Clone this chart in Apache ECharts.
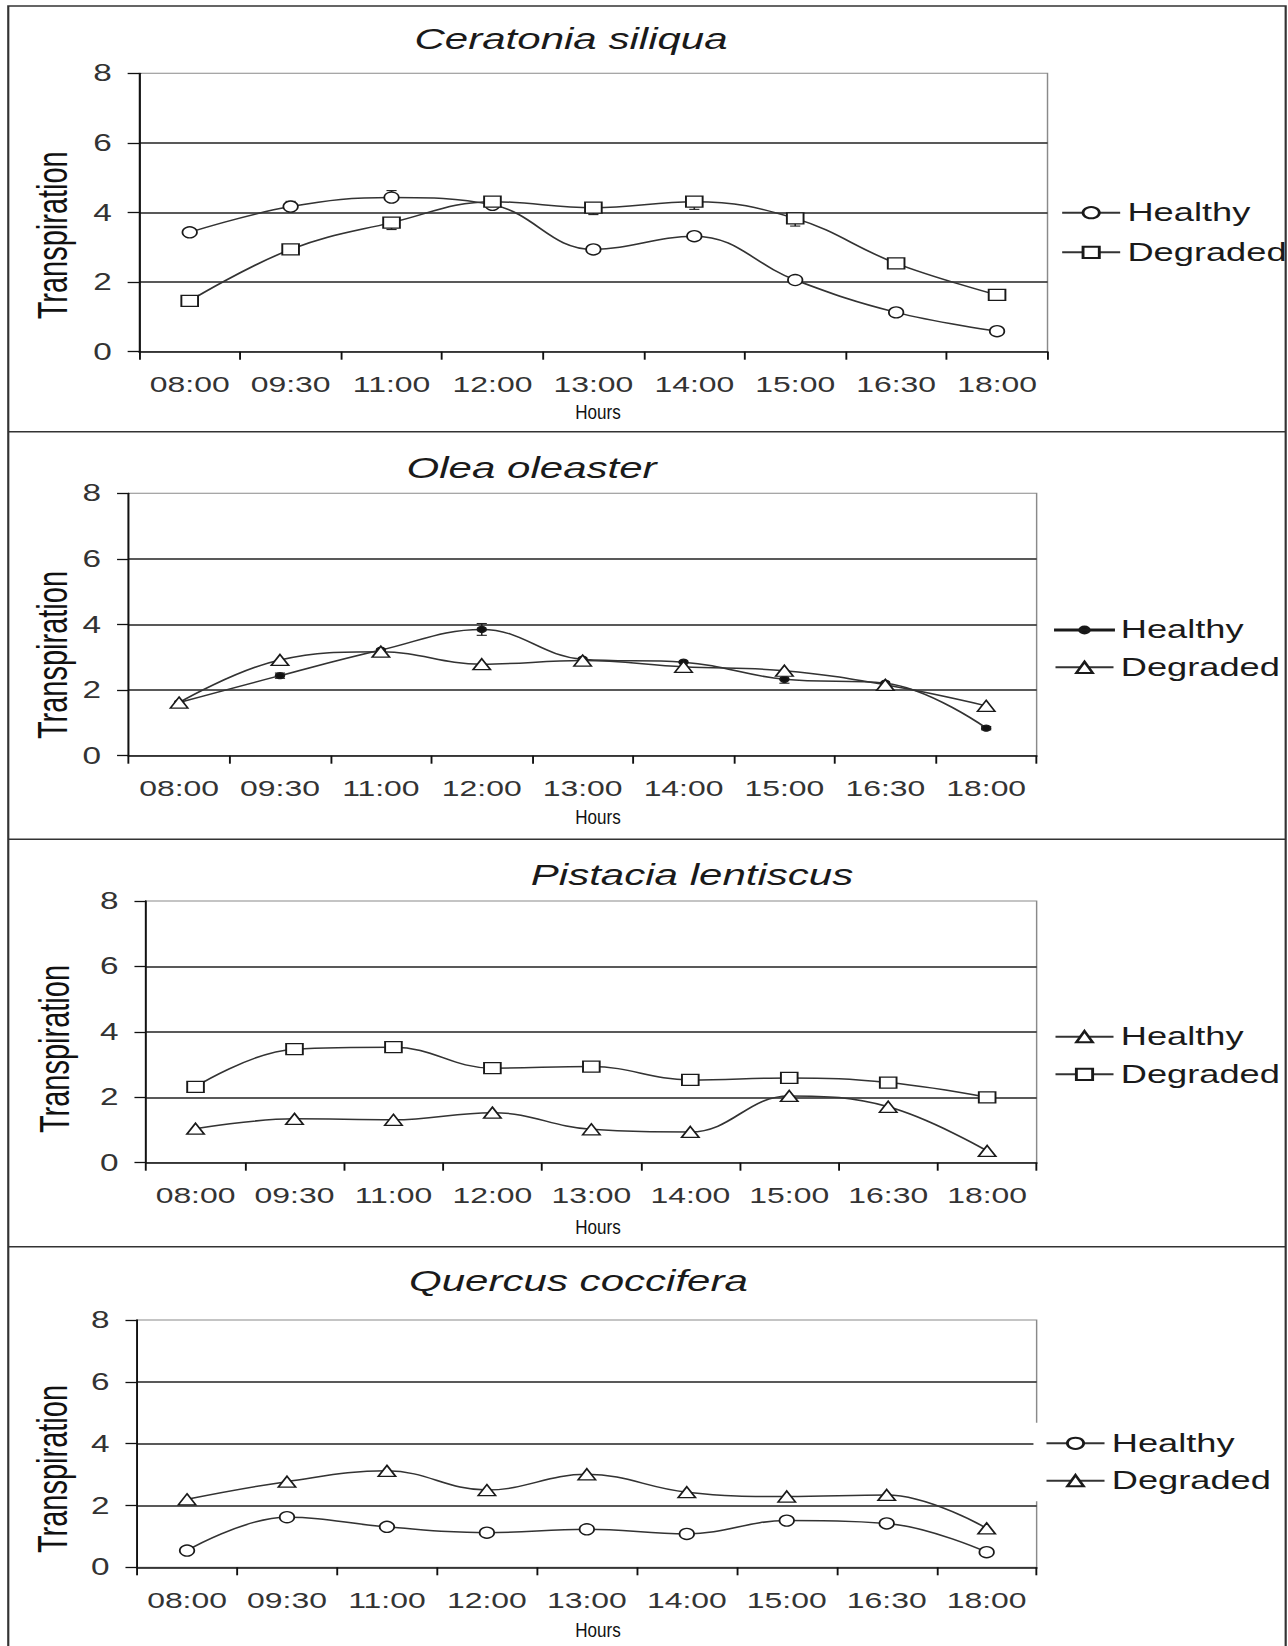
<!DOCTYPE html>
<html>
<head>
<meta charset="utf-8">
<script src="https://cdn.jsdelivr.net/npm/echarts@6/dist/echarts.min.js"></script>
<style>
html,body{margin:0;padding:0;background:#fff;overflow:hidden;}
#chart{width:888px;height:1646px;transform:scaleX(1.45045);transform-origin:0 0;}
</style>
</head>
<body>
<div id="chart"></div>
<script>
// ---------- data ----------
const categories = ['08:00','09:30','11:00','12:00','13:00','14:00','15:00','16:30','18:00'];
const yMin = 0, yMax = 8, yStep = 2;

const ceratoniaHealthy  = [3.43, 4.17, 4.43, 4.22, 2.94, 3.32, 2.06, 1.13, 0.59];
const ceratoniaDegraded = [1.46, 2.94, 3.71, 4.31, 4.14, 4.31, 3.83, 2.54, 1.63];
const ceratoniaHealthyErrUp    = [0, 0.15, 0.2, 0.1, 0.1, 0.08, 0.08, 0, 0];
const ceratoniaDegradedErrDown = [0, 0.1, 0.2, 0, 0.2, 0.22, 0.22, 0, 0];

const oleaHealthy  = [1.62, 2.44, 3.22, 3.85, 2.94, 2.85, 2.33, 2.21, 0.84];
const oleaDegraded = [1.62, 2.92, 3.17, 2.79, 2.90, 2.71, 2.59, 2.16, 1.52];
const oleaHealthyErr = [0, 0.08, 0, 0.18, 0, 0, 0.12, 0, 0.05];

const pistaciaHealthy  = [1.04, 1.34, 1.31, 1.53, 1.02, 0.94, 2.04, 1.71, 0.36];
const pistaciaDegraded = [2.32, 3.47, 3.53, 2.89, 2.94, 2.53, 2.59, 2.45, 2.00];

const quercusHealthy  = [0.54, 1.62, 1.31, 1.12, 1.23, 1.08, 1.51, 1.42, 0.49];
const quercusDegraded = [2.20, 2.77, 3.12, 2.50, 3.01, 2.43, 2.29, 2.34, 1.26];

const zeros = [0,0,0,0,0,0,0,0,0];

// ---------- layout (chart units; page is stretched horizontally by CSS) ----------
const FONT = '"Liberation Sans", Arial, Helvetica, sans-serif';
const DOT_ICON = 'path://M0,6.4L40,6.4L40,7.6L0,7.6Z M16.6,7A3.4,3.4,0,1,0,23.4,7A3.4,3.4,0,1,0,16.6,7Z';
const panels = [
  {title:'Ceratonia siliqua', key:'Ceratonia',
   h:{data:ceratoniaHealthy, sym:'circle', size:[10,11], fill:'#fff', lo:zeros, hi:ceratoniaHealthyErrUp},
   d:{data:ceratoniaDegraded, sym:'rect', size:[11.5,11], fill:'#fff', lo:ceratoniaDegradedErrDown, hi:zeros},
   grid:{left:96.0, top:73.3, width:626.2, height:278.4},
   legend:{left:731.3, top:200.2, gap:14.6, bg:false},
   titleX:393.7, titleY:38.8, yNameX:36.2, yNameY:235.3, hoursY:411.7},
  {title:'Olea oleaster', key:'Olea', hIcon:DOT_ICON,
   h:{data:oleaHealthy, sym:'circle', size:[6,6], fill:'#111', lo:oleaHealthyErr, hi:oleaHealthyErr},
   d:{data:oleaDegraded, sym:'triangle', size:[12,11], fill:'#fff', lo:zeros, hi:zeros},
   grid:{left:88.7, top:493.3, width:626.0, height:262.4},
   legend:{left:726.7, top:617.5, gap:12.3, bg:false},
   titleX:366.5, titleY:468.3, yNameX:36.2, yNameY:655, hoursY:816.7},
  {title:'Pistacia lentiscus', key:'Pistacia',
   h:{data:pistaciaHealthy, sym:'triangle', size:[12,11], fill:'#fff', lo:zeros, hi:zeros},
   d:{data:pistaciaDegraded, sym:'rect', size:[11.5,11], fill:'#fff', lo:zeros, hi:zeros},
   grid:{left:100.7, top:901, width:614.0, height:261.7},
   legend:{left:726.7, top:1024.2, gap:12.6, bg:false},
   titleX:477.1, titleY:875, yNameX:37.7, yNameY:1049, hoursY:1226.7},
  {title:'Quercus coccifera', key:'Quercus',
   h:{data:quercusHealthy, sym:'circle', size:[10,11], fill:'#fff', lo:zeros, hi:zeros},
   d:{data:quercusDegraded, sym:'triangle', size:[12,11], fill:'#fff', lo:zeros, hi:zeros},
   grid:{left:94.5, top:1320, width:620.2, height:247.3},
   legend:{left:712.5, top:1422.8, gap:12.4, bg:true},
   titleX:398.8, titleY:1280.8, yNameX:36.2, yNameY:1469, hoursY:1630}
];

function renderErr(params, api){
  const x = api.value(0), lo = api.value(1), hi = api.value(2);
  const p1 = api.coord([x, lo]), p2 = api.coord([x, hi]);
  const w = 3.5;
  const st = {stroke:'#222', lineWidth:1.1, fill:null};
  return {type:'group', children:[
    {type:'line', shape:{x1:p1[0], y1:p1[1], x2:p2[0], y2:p2[1]}, style:st},
    {type:'line', shape:{x1:p1[0]-w, y1:p1[1], x2:p1[0]+w, y2:p1[1]}, style:st},
    {type:'line', shape:{x1:p2[0]-w, y1:p2[1], x2:p2[0]+w, y2:p2[1]}, style:st}
  ]};
}

const grids = [], xAxes = [], yAxes = [], series = [], legends = [], graphics = [];

panels.forEach((p, i) => {
  grids.push(Object.assign({show:true, borderColor:'#8a8a8a', borderWidth:1, backgroundColor:'transparent', containLabel:false}, p.grid));
  xAxes.push({type:'category', gridIndex:i, data:categories, boundaryGap:true,
    axisLine:{show:true, lineStyle:{color:'#111', width:1.5}},
    axisTick:{show:true, inside:false, length:8, interval:0, lineStyle:{color:'#111', width:1.3}},
    axisLabel:{interval:0, margin:22, fontSize:22, color:'#333', fontFamily:FONT},
    splitLine:{show:false}});
  yAxes.push({type:'value', gridIndex:i, min:yMin, max:yMax, interval:yStep,
    axisLine:{show:true, lineStyle:{color:'#111', width:1.3}},
    axisTick:{show:true, inside:false, length:8, lineStyle:{color:'#111', width:1.3}},
    axisLabel:{margin:19, fontSize:23, color:'#333', fontFamily:FONT},
    splitLine:{show:true, showMinLine:false, showMaxLine:false, lineStyle:{color:'#222', width:1.5}}});

  [['Healthy', p.h], ['Degraded', p.d]].forEach(([lab, s]) => {
    series.push({type:'line', name:p.key + ' ' + lab, xAxisIndex:i, yAxisIndex:i,
      data:s.data, smooth:0.4, symbol:s.sym, symbolSize:s.size, showSymbol:true,
      lineStyle:{color:'#333', width:1.5},
      itemStyle:{color:s.fill, borderColor:'#1a1a1a', borderWidth:1.3},
      emphasis:{disabled:true}, z:3});
    const errData = [];
    s.data.forEach((v, k) => {
      if (s.lo[k] > 0 || s.hi[k] > 0) errData.push([k, v - s.lo[k], v + s.hi[k]]);
    });
    if (errData.length) {
      series.push({type:'custom', name:p.key + ' ' + lab + ' err', xAxisIndex:i, yAxisIndex:i,
        data:errData, renderItem:renderErr, z:2, silent:true});
    }
  });

  const hItem = {name:p.key + ' Healthy'};
  if (p.hIcon) hItem.icon = p.hIcon;
  legends.push({orient:'vertical', left:p.legend.left, top:p.legend.top, itemGap:p.legend.gap,
    itemWidth:40, itemHeight:14, padding:p.legend.bg ? 8 : 0,
    backgroundColor:p.legend.bg ? '#fff' : 'transparent',
    data:[hItem, {name:p.key + ' Degraded'}],
    formatter: n => n.split(' ').pop(),
    textStyle:{fontSize:25, color:'#1a1a1a', fontFamily:FONT}, selectedMode:false});

  graphics.push({type:'text', x:p.titleX, y:p.titleY, silent:true,
    style:{text:p.title, fontSize:29, fontStyle:'italic', fontFamily:FONT, fill:'#1a1a1a',
      align:'center', verticalAlign:'middle', textAlign:'center', textVerticalAlign:'middle'}});
  graphics.push({type:'text', x:p.yNameX, y:p.yNameY, rotation:Math.PI/2, silent:true,
    style:{text:'Transpiration', fontSize:29, fontFamily:FONT, fill:'#111',
      align:'center', verticalAlign:'middle', textAlign:'center', textVerticalAlign:'middle'}});
  graphics.push({type:'text', x:412.3, y:p.hoursY, scaleX:0.56, silent:true,
    style:{text:'Hours', fontSize:21, fontFamily:FONT, fill:'#111',
      align:'center', verticalAlign:'middle', textAlign:'center', textVerticalAlign:'middle'}});
});

// frame around the four panels
const frameStyle = {fill:null, stroke:'#333', lineWidth:1.5};
graphics.push({type:'rect', silent:true, shape:{x:5.7, y:6, width:880.7, height:1660}, style:frameStyle});
[431.7, 839.3, 1246.7].forEach(y => {
  graphics.push({type:'line', silent:true, shape:{x1:5.7, y1:y, x2:886.4, y2:y}, style:frameStyle});
});

const chart = echarts.init(document.getElementById('chart'), null, {renderer:'svg', width:888, height:1646});
chart.setOption({
  animation:false,
  backgroundColor:'#fff',
  grid:grids, xAxis:xAxes, yAxis:yAxes, series:series, legend:legends, graphic:graphics,
  tooltip:{show:false}
});
</script>
</body>
</html>
